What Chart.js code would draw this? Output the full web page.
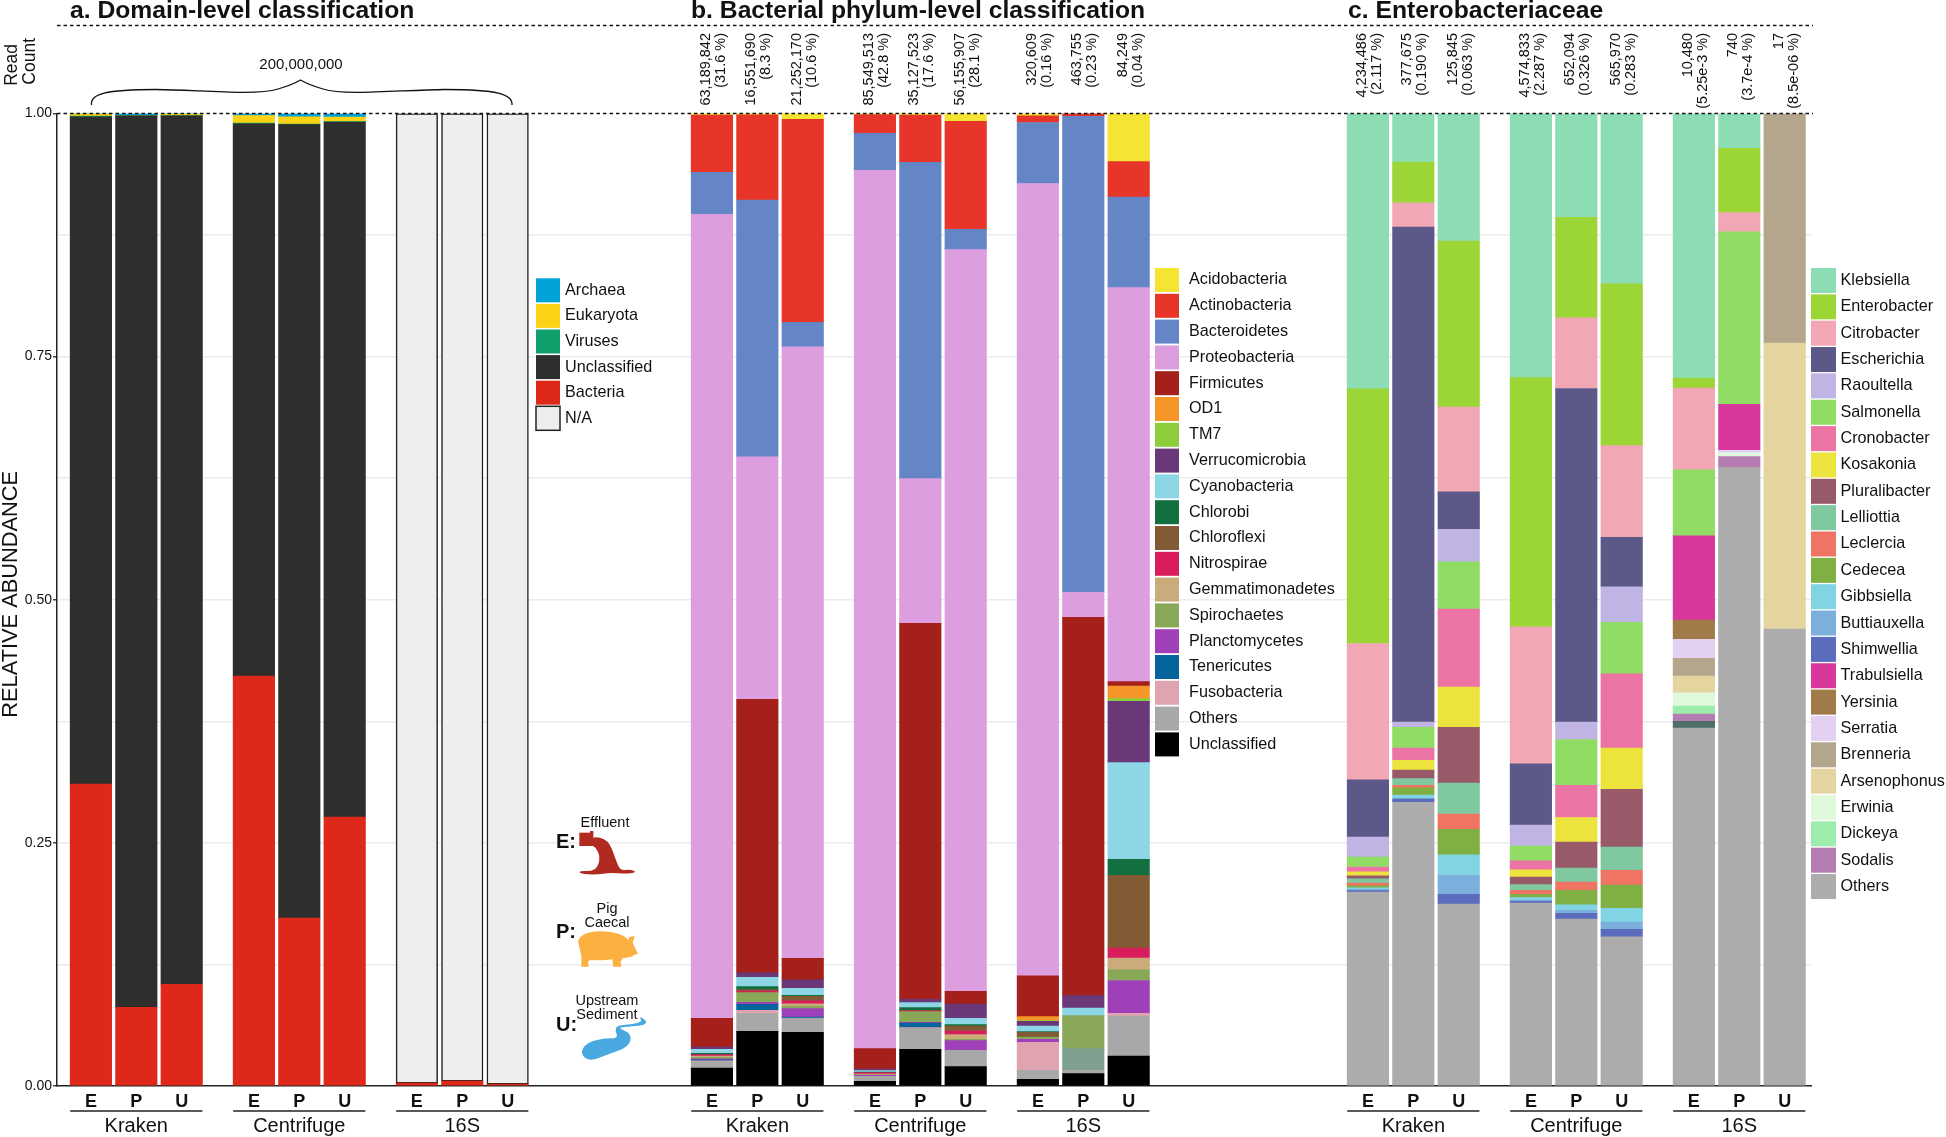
<!DOCTYPE html>
<html>
<head>
<meta charset="utf-8">
<title>Relative abundance</title>
<script src="https://cdn.jsdelivr.net/npm/chart.js@4"></script>
<style>
    html, body { margin: 0; background: #fff; }
    canvas { display: block; }
</style>
</head>
<body>
<canvas id="chart" width="1946" height="1137"></canvas>
<script>
// --- Data (fractions, columns: Kraken E P U, Centrifuge E P U, 16S E P U) ---
const sampleLetters = ['E', 'P', 'U'];
const methods = ['Kraken', 'Centrifuge', '16S'];

const domainNames = ['Archaea', 'Eukaryota', 'Viruses', 'Unclassified', 'Bacteria', 'N/A'];
const domainColors = ['#00a4d8', '#fdd116', '#10a06c', '#2e2e2c', '#de281a', '#eeeeee'];
const domainValues = [
    [.0002, .0019, .0007, .0021, .0034, .0036, 0, 0, 0],
    [.0025, .0003, .0015, .0078, .0075, .0048, 0, 0, 0],
    [.0006, .0001, .0001, .0006, .0006, .0003, 0, 0, 0],
    [.6862, .9167, .8932, .5680, .8158, .7147, 0, 0, 0],
    [.3105, .0810, .1045, .4215, .1727, .2766, .003, .005, .002],
    [0, 0, 0, 0, 0, 0, .997, .995, .998],
];

const phylumNames = ['Acidobacteria', 'Actinobacteria', 'Bacteroidetes', 'Proteobacteria', 'Firmicutes', 'OD1', 'TM7',
    'Verrucomicrobia', 'Cyanobacteria', 'Chlorobi', 'Chloroflexi', 'Nitrospirae', 'Gemmatimonadetes', 'Spirochaetes',
    'Planctomycetes', 'Tenericutes', 'Fusobacteria', 'Unlisted', 'Others', 'Unclassified'];
const phylumColors = ['#f5e432', '#e8352a', '#6586c6', '#dd9ee0', '#a5201a', '#f79628', '#8dcc3a',
    '#6a3878', '#8cd6e6', '#127040', '#825a34', '#d81c5c', '#c9ab7c', '#88a858',
    '#a040b8', '#05649c', '#e0a4b0', '#7fa08f', '#a8a8a8', '#000000'];
const phylumValues = [
    [.0023, .0023, .0067, .0015, .0023, .0087, .0033, 0, .0502],
    [.0589, .0877, .2087, .0195, .0486, .1111, .0068, .0036, .0364],
    [.0432, .2640, .0250, .0380, .3252, .0209, .0627, .4895, .0932],
    [.8267, .2492, .6290, .9031, .1488, .7627, .8148, .0257, .4051],
    [.0295, .2814, .0219, .0209, .3866, .0130, .0418, .3890, .0045],
    [0, 0, 0, 0, 0, 0, .0041, 0, .0130],
    [0, 0, 0, 0, 0, 0, .0007, 0, .0028],
    [.0024, .0045, .0089, .0017, .0034, .0147, .0051, .0127, .0630],
    [.0041, .0096, .0072, .0014, .0051, .0065, .0055, .0079, .0994],
    [.0014, .0031, .0010, .0007, .0027, .0014, .0007, 0, .0165],
    [0, .0014, .0045, 0, .0007, .0051, .0051, 0, .0748],
    [.0014, .0017, .0031, .0014, .0007, .0038, 0, 0, .0103],
    [.0014, 0, .0027, .0007, 0, .0048, 0, 0, .0120],
    [.0014, .0099, .0024, .0007, .0110, .0014, .0021, .0339, .0110],
    [.0010, .0021, .0086, .0010, .0007, .0099, .0031, 0, .0339],
    [.0010, .0062, .0010, 0, .0048, 0, 0, 0, 0],
    [.0010, .0034, 0, 0, .0007, 0, .0288, 0, .0027],
    [0, 0, 0, 0, 0, 0, 0, .0223, 0],
    [.0065, .0182, .0147, .0051, .0216, .0168, .0093, .0034, .0411],
    [.0185, .0562, .0552, .0048, .0377, .0199, .0069, .0127, .0308],
];
const phylumCounts = ['63,189,842', '16,551,690', '21,252,170', '85,549,513', '35,127,523', '56,155,907', '320,609', '463,755', '84,249'];
const phylumPercents = ['(31.6 %)', '(8.3 %)', '(10.6 %)', '(42.8 %)', '(17.6 %)', '(28.1 %)', '(0.16 %)', '(0.23 %)', '(0.04 %)'];

const genusNames = ['Klebsiella', 'Enterobacter', 'Citrobacter', 'Escherichia', 'Raoultella', 'Salmonella', 'Cronobacter',
    'Kosakonia', 'Pluralibacter', 'Lelliottia', 'Leclercia', 'Cedecea', 'Gibbsiella', 'Buttiauxella', 'Shimwellia',
    'Trabulsiella', 'Yersinia', 'Serratia', 'Brenneria', 'Arsenophonus', 'Erwinia', 'Dickeya', 'Sodalis', 'Unlisted', 'Others'];
const genusColors = ['#8cdcb4', '#9cd636', '#f2a8b4', '#5c5888', '#c0b4e4', '#90dc64', '#ec74a4',
    '#ece43c', '#985a68', '#80c8a0', '#f07464', '#80b044', '#80d4e4', '#7cb0dc', '#5c6cbc',
    '#d8389c', '#a07a48', '#e4d0f0', '#b4a68c', '#e4d4a0', '#e0f8dc', '#9cecac', '#b47cb0', '#4d6e66', '#acacac'];
const genusValues = [
    [.2833, .0499, .1311, .2717, .1064, .1753, .2720, .0358, 0],
    [.2619, .0418, .1707, .2563, .1035, .1663, .0103, .0662, 0],
    [.1402, .0250, .0871, .1409, .0726, .0942, .0840, .0198, 0],
    [.0589, .5090, .0387, .0630, .3431, .0511, 0, 0, 0],
    [.0206, .0054, .0333, .0216, .0178, .0363, 0, 0, 0],
    [.0103, .0213, .0486, .0151, .0470, .0532, .0679, .1772, 0],
    [.0048, .0126, .0802, .0093, .0332, .0761, 0, 0, 0],
    [.0041, .0100, .0414, .0075, .0254, .0425, 0, 0, 0],
    [.0031, .0089, .0573, .0076, .0267, .0593, 0, 0, 0],
    [.0044, .0068, .0319, .0058, .0144, .0240, 0, 0, 0],
    [.0028, .0025, .0157, .0041, .0085, .0151, 0, 0, 0],
    [.0021, .0075, .0261, .0035, .0147, .0240, 0, 0, 0],
    [.0014, .0038, .0212, .0024, .0058, .0141, 0, 0, 0],
    [.0014, 0, .0195, .0014, .0031, .0075, 0, 0, 0],
    [.0014, .0037, .0100, .0017, .0058, .0076, 0, 0, 0],
    [0, 0, 0, 0, 0, 0, .0867, .0473, 0],
    [0, 0, 0, 0, 0, 0, .0198, 0, 0],
    [0, 0, 0, 0, 0, 0, .0195, .0025, 0],
    [0, 0, 0, 0, 0, 0, .0182, 0, .2360],
    [0, 0, 0, 0, 0, 0, .0172, 0, .2941],
    [0, 0, 0, 0, 0, 0, .0137, .0041, 0],
    [0, 0, 0, 0, 0, 0, .0082, 0, 0],
    [0, 0, 0, 0, 0, 0, .0075, .0113, 0],
    [0, 0, 0, 0, 0, 0, .0069, 0, 0],
    [.1995, .2917, .1871, .1882, .1717, .1535, .3681, .6358, .4699],
];
const genusCounts = ['4,234,486', '377,675', '125,845', '4,574,833', '652,094', '565,970', '10,480', '740', '17'];
const genusPercents = ['(2.117 %)', '(0.190 %)', '(0.063 %)', '(2.287 %)', '(0.326 %)', '(0.283 %)', '(5.25e-3 %)', '(3.7e-4 %)', '(8.5e-06 %)'];

// --- Layout on the x axis: one unit is the distance between two neighbouring bars ---
const panelStarts = [0, 13.68, 28.13];
const groupStarts = [0, 3.59, 7.18];
const barPosition = (panel, i) => panelStarts[panel] + groupStarts[Math.floor(i / 3)] + (i % 3);
const allPositions = [];
panelStarts.forEach((_, p) => { for (let i = 0; i < 9; i++) allPositions.push(barPosition(p, i)); });

// --- Datasets: stacks grow upwards, so the last legend row goes in first (N/A sits on top of Bacteria) ---
const buildDatasets = (panel, names, colors, values) => names.map((name, s) => ({
    label: name,
    backgroundColor: colors[s],
    borderColor: name === 'N/A' ? '#222' : colors[s],
    borderWidth: name === 'N/A' ? 1.5 : 0,
    borderSkipped: false,
    data: values[s].map((v, i) => ({ x: barPosition(panel, i), y: v })).filter(d => d.y > 0),
})).reverse().sort((a, b) => (a.label === 'N/A') - (b.label === 'N/A'));

const datasets = [
    ...buildDatasets(0, domainNames, domainColors, domainValues),
    ...buildDatasets(1, phylumNames, phylumColors, phylumValues),
    ...buildDatasets(2, genusNames, genusColors, genusValues),
];

// --- Everything that is not a bar or an axis ---
const FONT = '"Liberation Sans", Arial, sans-serif';

const drawText = (ctx, text, x, y, font, align = 'left', baseline = 'middle') => {
    ctx.font = `${font} ${FONT}`;
    ctx.textAlign = align;
    ctx.textBaseline = baseline;
    ctx.fillStyle = '#111';
    ctx.fillText(text, x, y);
};

const drawRotated = (ctx, text, x, y, font) => {
    ctx.save();
    ctx.translate(x, y);
    ctx.rotate(-Math.PI / 2);
    drawText(ctx, text, 0, 0, font, 'right');
    ctx.restore();
};

const drawLegend = (ctx, names, colors, boxX, top, pitch, box, textX) => {
    names.filter(n => n !== 'Unlisted').forEach((name, i) => {
        const y = top + i * pitch;
        ctx.fillStyle = colors[names.indexOf(name)];
        ctx.fillRect(boxX, y, box, box);
        if (name === 'N/A') {
            ctx.strokeStyle = '#222';
            ctx.lineWidth = 1.5;
            ctx.strokeRect(boxX, y, box, box);
        }
        drawText(ctx, name, textX, y + box / 2, '16.2px');
    });
};

// closed smooth outline through a list of points
const fillBlob = (ctx, points, color) => {
    ctx.fillStyle = color;
    ctx.beginPath();
    const mid = (a, b) => [(a[0] + b[0]) / 2, (a[1] + b[1]) / 2];
    let start = mid(points[points.length - 1], points[0]);
    ctx.moveTo(start[0], start[1]);
    points.forEach((p, i) => {
        const m = mid(p, points[(i + 1) % points.length]);
        ctx.quadraticCurveTo(p[0], p[1], m[0], m[1]);
    });
    ctx.closePath();
    ctx.fill();
};

const fillPolygon = (ctx, points, color) => {
    ctx.fillStyle = color;
    ctx.beginPath();
    points.forEach((p, i) => (i ? ctx.lineTo(p[0], p[1]) : ctx.moveTo(p[0], p[1])));
    ctx.closePath();
    ctx.fill();
};

const drawIcons = (ctx) => {
    ctx.save();
    ctx.translate(530, 800);
    ctx.scale(1 / 3, 1 / 3);
    // effluent pipe
    ctx.fillStyle = '#b02a20';
    ctx.fillRect(148, 98, 42, 40);
    ctx.fillRect(180, 93, 10, 8);
    fillBlob(ctx, [[185, 108], [235, 118], [258, 180], [270, 212], [300, 208], [322, 216], [290, 222], [240, 218],
        [200, 224], [150, 222], [148, 212], [198, 214], [212, 170], [195, 140], [180, 135]], '#b02a20');
    // pig: body, snout and ear, then the legs
    fillBlob(ctx, [[142, 418], [170, 396], [240, 392], [295, 412], [322, 466], [280, 476], [190, 482], [155, 476], [148, 440]], '#fdb042');
    fillPolygon(ctx, [[296, 412], [314, 408], [308, 428], [324, 462], [300, 468]], '#fdb042');
    fillPolygon(ctx, [[154, 465], [188, 470], [174, 486], [176, 500], [154, 500]], '#fdb042');
    fillPolygon(ctx, [[246, 470], [280, 468], [272, 486], [274, 500], [250, 500]], '#fdb042');
    // sediment stream
    fillBlob(ctx, [[325, 648], [350, 662], [345, 676], [290, 680], [262, 684], [305, 700], [298, 740], [230, 765],
        [178, 785], [150, 760], [170, 728], [220, 715], [265, 715], [255, 690], [262, 676], [310, 672], [338, 664]], '#4aa8e0');
    ctx.restore();
};

const overlayPlugin = {
    id: 'overlay',
    afterDatasetsDraw(chart) {
        const { ctx, chartArea, scales } = chart;
        const xAt = (panel, i) => scales.x.getPixelForValue(barPosition(panel, i));
        ctx.save();

        // titles
        drawText(ctx, 'a. Domain-level classification', 70, 18, 'bold 24.7px', 'left', 'alphabetic');
        drawText(ctx, 'b. Bacterial phylum-level classification', 691, 18, 'bold 24.7px', 'left', 'alphabetic');
        drawText(ctx, 'c. Enterobacteriaceae', 1348, 18, 'bold 24.7px', 'left', 'alphabetic');

        // dashed rules
        ctx.strokeStyle = '#111';
        ctx.lineWidth = 1.5;
        ctx.setLineDash([3.5, 3]);
        [25.5, chartArea.top].forEach(y => {
            ctx.beginPath();
            ctx.moveTo(chartArea.left, y);
            ctx.lineTo(1813, y);
            ctx.stroke();
        });
        ctx.setLineDash([]);

        // axis title and read count header
        drawRotated(ctx, 'RELATIVE ABUNDANCE', 11, 471, '21.8px');
        drawRotated(ctx, 'Read', 12, 44, '17.5px');
        drawRotated(ctx, 'Count', 30, 38, '17.5px');
        drawText(ctx, '200,000,000', 301, 65, '15px', 'center');

        ctx.strokeStyle = '#111';
        ctx.lineWidth = 1.3;
        ctx.beginPath();
        ctx.moveTo(91.5, 105);
        ctx.bezierCurveTo(90, 94, 105, 89.5, 156, 89.5);
        ctx.bezierCurveTo(200, 90, 255, 96, 278, 89);
        ctx.quadraticCurveTo(292, 85, 300.5, 80);
        ctx.quadraticCurveTo(309, 85, 323, 89);
        ctx.bezierCurveTo(346, 96, 400, 90, 445, 89.5);
        ctx.bezierCurveTo(497, 89.5, 513, 94, 512, 105);
        ctx.stroke();

        phylumCounts.forEach((c, i) => {
            drawRotated(ctx, c, xAt(1, i) - 6, 33, '14.5px');
            drawRotated(ctx, phylumPercents[i], xAt(1, i) + 9, 33, '14.5px');
        });
        genusCounts.forEach((c, i) => {
            drawRotated(ctx, c, xAt(2, i) - 6, 33, '14.5px');
            drawRotated(ctx, genusPercents[i], xAt(2, i) + 9, 33, '14.5px');
        });

        // method brackets under the E P U labels
        panelStarts.forEach((_, p) => {
            methods.forEach((m, g) => {
                const x0 = xAt(p, g * 3) - 20.7;
                const x1 = xAt(p, g * 3 + 2) + 20.7;
                ctx.strokeStyle = '#222';
                ctx.lineWidth = 1.5;
                ctx.beginPath();
                ctx.moveTo(x0, 1111);
                ctx.lineTo(x1, 1111);
                ctx.stroke();
                drawText(ctx, m, xAt(p, g * 3 + 1), 1126, '20px', 'center');
            });
        });

        // legends
        drawLegend(ctx, domainNames, domainColors, 536, 278.3, 25.6, 24, 565);
        drawLegend(ctx, phylumNames, phylumColors, 1155, 268, 25.8, 24, 1189);
        drawLegend(ctx, genusNames, genusColors, 1811, 268, 26.35, 25, 1840.5);

        // sample key
        drawText(ctx, 'E:', 556, 842, 'bold 20px');
        drawText(ctx, 'P:', 556, 932, 'bold 20px');
        drawText(ctx, 'U:', 556, 1025, 'bold 20px');
        drawText(ctx, 'Effluent', 605, 823, '14.5px', 'center');
        drawText(ctx, 'Pig', 607, 909, '14.5px', 'center');
        drawText(ctx, 'Caecal', 607, 923, '14.5px', 'center');
        drawText(ctx, 'Upstream', 607, 1001, '14.5px', 'center');
        drawText(ctx, 'Sediment', 607, 1015, '14.5px', 'center');
        drawIcons(ctx);

        ctx.restore();
    },
};

// --- Chart ---
new Chart(document.getElementById('chart'), {
    type: 'bar',
    data: { datasets },
    plugins: [overlayPlugin],
    options: {
        responsive: false,
        animation: false,
        barThickness: 41.5,
        layout: { padding: { top: 113.5, right: 135, bottom: 0, left: 0 } },
        plugins: { legend: { display: false }, tooltip: { enabled: false } },
        scales: {
            x: {
                type: 'linear',
                stacked: true,
                offset: false,
                min: -0.747,
                max: 37.89,
                grid: { display: false, drawTicks: false, tickLength: 0 },
                border: { display: true, color: '#222', width: 1.5 },
                afterFit: (scale) => { scale.height = 51; },
                afterBuildTicks: (scale) => { scale.ticks = allPositions.map(value => ({ value })); },
                ticks: {
                    autoSkip: false,
                    maxRotation: 0,
                    minRotation: 0,
                    padding: 5,
                    color: '#111',
                    font: { family: FONT, size: 18, weight: 'bold' },
                    callback: (value, i) => sampleLetters[i % 3],
                },
            },
            y: {
                stacked: true,
                min: 0,
                max: 1,
                afterFit: (scale) => { scale.width = 57; },
                border: { display: true, color: '#222', width: 1.5 },
                grid: {
                    color: (c) => (c.tick.value === 0 || c.tick.value === 1) ? 'transparent' : '#ececec',
                    lineWidth: 1.5,
                    tickLength: 4,
                    tickColor: (c) => Number.isInteger(c.tick.value * 4) ? '#444' : 'transparent',
                },
                ticks: {
                    stepSize: 0.125,
                    padding: 1,
                    color: '#111',
                    font: { family: FONT, size: 14 },
                    callback: (value) => Number.isInteger(value * 4) ? value.toFixed(2) : '',
                },
            },
        },
    },
});
</script>
</body>
</html>
